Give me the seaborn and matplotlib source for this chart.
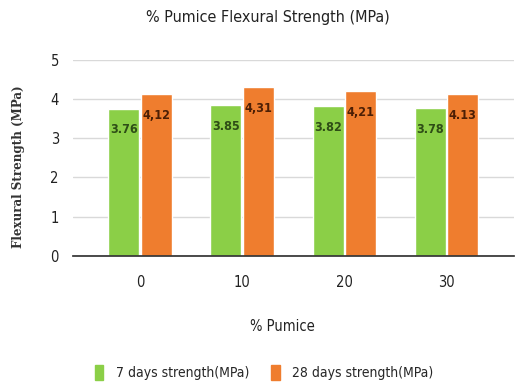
import pandas as pd
import seaborn as sns
import matplotlib.pyplot as plt

pumice = ["0", "10", "20", "30"]
strength_7 = [3.76, 3.85, 3.82, 3.78]
strength_28 = [4.12, 4.31, 4.21, 4.13]
labels_7 = ["3.76", "3.85", "3.82", "3.78"]
labels_28 = ["4,12", "4,31", "4,21", "4.13"]
series = ["7 days strength(MPa)", "28 days strength(MPa)"]
colors = ["#8bcf47", "#ef7d2e"]

df = pd.DataFrame({
    "pumice": pumice * 2,
    "value": strength_7 + strength_28,
    "series": [series[0]] * 4 + [series[1]] * 4,
})

sns.set_theme(style="white")
plt.rcParams["font.family"] = ["DejaVu Sans"]
plt.rcParams["font.stretch"] = "condensed"

fig = plt.figure(figsize=(5.16, 3.87), dpi=100)
ax = fig.add_axes([0.141, 0.339, 0.855, 0.506])

sns.barplot(data=df, x="pumice", y="value", hue="series", palette=colors,
            width=0.64, gap=0.05, ax=ax, legend=False, saturation=1)

for cont, labs, col in zip(ax.containers, [labels_7, labels_28], ["#2e4d16", "#4d1f05"]):
    ax.bar_label(cont, labels=labs, padding=-20, color=col,
                 fontsize=9, fontweight="bold")

ax.set_ylim(0, 5)
ax.set_xlim(-0.66, 3.66)
ax.set_yticks([0, 1, 2, 3, 4, 5])
ax.yaxis.grid(True, color="#d9d9d9", lw=1)
ax.set_axisbelow(True)
for s in ["left", "right", "top"]:
    ax.spines[s].set_visible(False)
ax.spines["bottom"].set_color("#333333")
ax.tick_params(axis="both", length=0, labelsize=10.5, colors="#222222")
ax.tick_params(axis="x", pad=14)
ax.tick_params(axis="y", pad=10)

ax.set_xlabel("")
ax.set_ylabel("")
fig.text(0.52, 0.955, "% Pumice Flexural Strength (MPa)", ha="center", va="center",
         fontsize=11.5, color="#222222")
fig.text(0.035, 0.568, "Flexural Strength (MPa)", rotation=90, ha="center", va="center",
         fontsize=9.5, fontweight="bold", family="DejaVu Serif", color="#333333")
fig.text(0.548, 0.157, "% Pumice", ha="center", va="center", fontsize=10.5, color="#222222")

handles = [plt.Rectangle((0, 0), 1, 1, color=c) for c in colors]
fig.legend(handles, series, loc="center", bbox_to_anchor=(0.512, 0.038), ncol=2,
           frameon=False, fontsize=10, handlelength=0.6, handleheight=1.3,
           columnspacing=1.6, handletextpad=0.9)

fig.savefig("out.png", dpi=100)
